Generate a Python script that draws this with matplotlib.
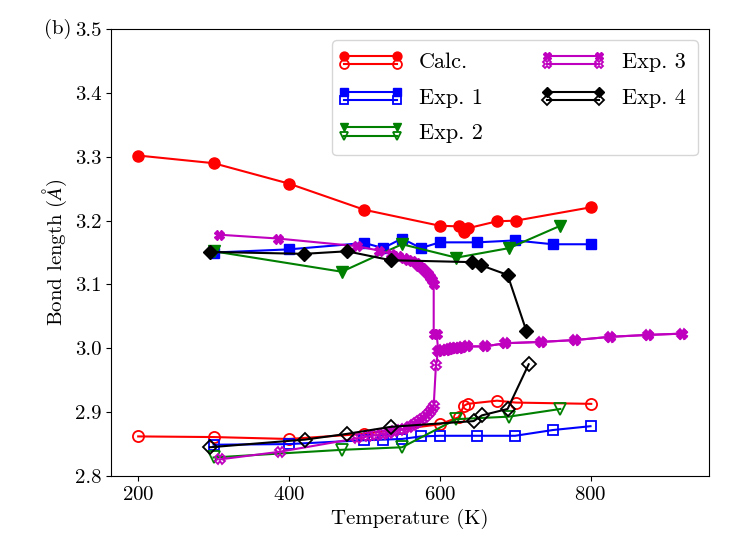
import numpy as np
import matplotlib
matplotlib.use("Agg")
import matplotlib.pyplot as plt
from matplotlib.legend_handler import HandlerBase, HandlerLine2D

plt.rcParams["font.family"] = ["cmr10", "DejaVu Serif"]
plt.rcParams["mathtext.fontset"] = "cm"
plt.rcParams["axes.formatter.use_mathtext"] = True
plt.rcParams["font.size"] = 15

# Calc. (filled = upper branch, open = lower branch)
calc_T = [200, 300, 400, 500, 600, 625, 632, 637, 676, 701, 801]
calc_hi = [3.302, 3.290, 3.258, 3.217, 3.192, 3.191, 3.182, 3.188, 3.199, 3.200, 3.221]
calc_T_lo = [200, 300, 400, 500, 600, 625, 632, 637, 676, 701, 801]
calc_lo = [2.862, 2.861, 2.858, 2.866, 2.881, 2.892, 2.910, 2.913, 2.918, 2.915, 2.913]

# Exp. 1
exp1_T = [300, 400, 500, 525, 550, 575, 600, 650, 700, 750, 800]
exp1_hi = [3.150, 3.155, 3.165, 3.157, 3.172, 3.157, 3.166, 3.166, 3.169, 3.163, 3.163]
exp1_lo = [2.849, 2.850, 2.856, 2.857, 2.858, 2.862, 2.863, 2.863, 2.863, 2.872, 2.878]

# Exp. 2
exp2_T = [300, 470, 550, 622, 692, 760]
exp2_hi = [3.152, 3.120, 3.163, 3.142, 3.157, 3.192]
exp2_lo = [2.829, 2.841, 2.845, 2.889, 2.893, 2.905]

# Exp. 3
exp3_T_hi = [307, 385, 490, 520, 535, 545, 552, 558, 563, 568, 572, 576, 580, 584,
             587, 590, 592, 592, 596, 598, 603, 608, 612, 616, 620, 625, 630, 636,
             660, 687, 734, 780, 826, 876, 921]
exp3_hi = [3.178, 3.172, 3.160, 3.153, 3.148, 3.145, 3.142, 3.139, 3.136, 3.133, 3.129,
           3.126, 3.121, 3.117, 3.112, 3.107, 3.100, 3.022, 3.022, 2.996, 2.997, 2.998,
           2.999, 3.000, 3.000, 3.001, 3.002, 3.003, 3.003, 3.008, 3.010, 3.013, 3.018,
           3.021, 3.023]
exp3_T_lo = [308, 388, 490, 505, 515, 525, 533, 540, 547, 553, 559, 564, 569, 573, 577,
             581, 584, 587, 590, 592, 595, 598, 603, 608, 612, 616, 620, 625, 630, 636,
             660, 687, 734, 780, 826, 876, 921]
exp3_lo = [2.826, 2.838, 2.859, 2.862, 2.864, 2.866, 2.868, 2.870, 2.872, 2.874, 2.877,
           2.880, 2.883, 2.886, 2.889, 2.893, 2.897, 2.901, 2.905, 2.910, 2.974, 2.996,
           2.997, 2.998, 2.999, 3.000, 3.000, 3.001, 3.002, 3.003, 3.003, 3.008, 3.010,
           3.013, 3.018, 3.021, 3.023]

# Exp. 4
exp4_T_hi = [295, 420, 477, 535, 643, 655, 690, 715]
exp4_hi = [3.151, 3.148, 3.152, 3.138, 3.135, 3.130, 3.115, 3.027]
exp4_T_lo = [295, 421, 477, 535, 645, 656, 690, 718]
exp4_lo = [2.845, 2.857, 2.866, 2.877, 2.886, 2.895, 2.905, 2.975]


class HandlerStack(HandlerBase):
    # draws the filled and the open line one above the other
    def create_artists(self, legend, orig_handle, xdescent, ydescent, width,
                       height, fontsize, trans):
        out = []
        hl = HandlerLine2D(numpoints=2, marker_pad=0.0)
        for i, h in enumerate(orig_handle):
            arts = hl.create_artists(legend, h, xdescent, ydescent, width,
                                     height, fontsize, trans)
            off = height * 0.27 * (1 if i == 0 else -1)
            for a in arts:
                a.set_ydata(np.asarray(a.get_ydata()) + off)
            out.extend(arts)
        return out


fig = plt.figure(figsize=(7.47, 5.6), dpi=100)
ax = fig.add_axes([0.1486, 0.15, 0.8004, 0.798])

lw = 1.5
series = [
    ("Calc.", "red", "o", calc_T, calc_hi, calc_T_lo, calc_lo, 8),
    ("Exp. 1", "blue", "s", exp1_T, exp1_hi, exp1_T, exp1_lo, 7.2),
    ("Exp. 2", "green", "v", exp2_T, exp2_hi, exp2_T, exp2_lo, 8),
    ("Exp. 3", "m", "X", exp3_T_hi, exp3_hi, exp3_T_lo, exp3_lo, 7),
    ("Exp. 4", "black", "D", exp4_T_hi, exp4_hi, exp4_T_lo, exp4_lo, 7),
]
handles = []
labels = []
for name, c, m, th, yh, tl, yl, ms in series:
    lo, = ax.plot(tl, yl, color=c, marker=m, ms=ms, lw=lw, mfc="none", mew=1.3)
    hi, = ax.plot(th, yh, color=c, marker=m, ms=ms, lw=lw)
    handles.append((hi, lo))
    labels.append(name)

ax.set_ylim(2.8, 3.5)
ax.set_xticks([200, 400, 600, 800])
ax.set_yticks(np.arange(2.8, 3.51, 0.1))
ax.yaxis.set_major_formatter(matplotlib.ticker.FormatStrFormatter("%.1f"))
ax.set_xlabel("Temperature (K)")
ax.set_ylabel(r"Bond length ($\AA$)")
ax.text(-0.066, 1.0, "(b)", transform=ax.transAxes, ha="right", va="center")

ax.legend(handles, labels, ncol=2, loc="upper right", fontsize=16,
          handler_map={tuple: HandlerStack()}, handlelength=2.35,
          handletextpad=1.0, labelspacing=0.72, columnspacing=2.9,
          borderaxespad=0.5, borderpad=0.55, markerscale=0.8)

fig.savefig("out.png", dpi=100)
